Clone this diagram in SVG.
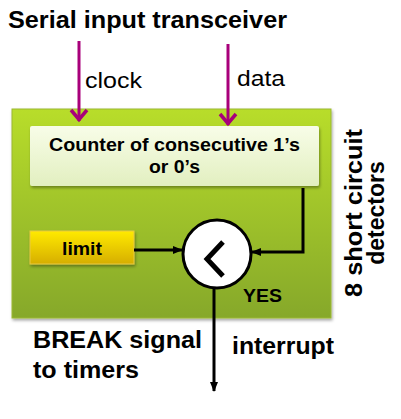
<svg xmlns="http://www.w3.org/2000/svg" width="401" height="419" viewBox="0 0 401 419">
<defs>
<linearGradient id="gGreen" x1="0" y1="0" x2="0" y2="1">
<stop offset="0" stop-color="#B8DD2C"/>
<stop offset="1" stop-color="#86A82A"/>
</linearGradient>
<linearGradient id="gCounter" x1="0" y1="0" x2="0" y2="1">
<stop offset="0" stop-color="#F8FDE8"/>
<stop offset="1" stop-color="#E2EFC0"/>
</linearGradient>
<linearGradient id="gLimit" x1="0" y1="0" x2="0" y2="1">
<stop offset="0" stop-color="#FFEA00"/>
<stop offset="1" stop-color="#D6AE00"/>
</linearGradient>
<filter id="sh" x="-10%" y="-10%" width="120%" height="130%">
<feDropShadow dx="1" dy="2" stdDeviation="1.5" flood-color="#000" flood-opacity="0.35"/>
</filter>
<marker id="ahM" viewBox="-14 -10 16 20" refX="0" refY="0" markerWidth="16" markerHeight="20" orient="auto" markerUnits="userSpaceOnUse">
<path d="M-11,-8 L-1.5,0 L-11,8" fill="none" stroke="#A8007A" stroke-width="3.5" stroke-linejoin="miter"/>
</marker>
<marker id="ahK" viewBox="0 0 10 10" refX="9" refY="5" markerWidth="10" markerHeight="10" orient="auto" markerUnits="userSpaceOnUse">
<path d="M0,1 L10,5 L0,9 Z" fill="#000"/>
</marker>
<style>
.t{font-family:"Liberation Sans",Arial,sans-serif;fill:#000}
.b{font-weight:bold}
.mg{stroke:#A8007A;stroke-width:3;fill:none}
.bk{stroke:#000;stroke-width:3;fill:none}
</style>
</defs>

<text class="t b" x="8" y="28" font-size="23" textLength="279" lengthAdjust="spacingAndGlyphs">Serial input transceiver</text>

<g id="main-box">
<rect x="12" y="109" width="319" height="209" fill="url(#gGreen)" stroke="#9BB830" stroke-width="1" filter="url(#sh)"/>
</g>

<g id="counter">
<rect x="30" y="126" width="289" height="60" rx="2" fill="url(#gCounter)" filter="url(#sh)"/>
<text class="t b" x="49" y="151" font-size="18" textLength="251" lengthAdjust="spacingAndGlyphs">Counter of consecutive 1’s</text>
<text class="t b" x="149" y="173" font-size="18" textLength="51" lengthAdjust="spacingAndGlyphs">or 0’s</text>
</g>

<g id="limit">
<rect x="30" y="231" width="104" height="33" fill="url(#gLimit)" stroke="#E8C840" stroke-width="1" filter="url(#sh)"/>
<text class="t b" x="62" y="255" font-size="18" textLength="40" lengthAdjust="spacingAndGlyphs">limit</text>
</g>

<g id="comparator">
<circle cx="217" cy="254" r="34" fill="#fff" stroke="#000" stroke-width="3"/>
<path d="M223,242 L207,259 L223,276" fill="none" stroke="#000" stroke-width="5" stroke-linejoin="miter"/>
</g>

<g id="connectors">
<line class="mg" x1="79" y1="41" x2="79" y2="121" marker-end="url(#ahM)"/>
<line class="mg" x1="228" y1="44" x2="228" y2="125" marker-end="url(#ahM)"/>
<line class="bk" x1="134" y1="250" x2="182" y2="250" marker-end="url(#ahK)"/>
<polyline class="bk" points="303,188 303,252 252,252" marker-end="url(#ahK)"/>
<line class="bk" x1="214" y1="288" x2="214" y2="391" marker-end="url(#ahK)"/>
</g>

<text class="t" x="85" y="88" font-size="22" textLength="57" lengthAdjust="spacingAndGlyphs">clock</text>
<text class="t" x="237" y="86" font-size="22" textLength="48" lengthAdjust="spacingAndGlyphs">data</text>
<text class="t b" x="243" y="302" font-size="18" textLength="39" lengthAdjust="spacingAndGlyphs">YES</text>
<text class="t b" x="33" y="348" font-size="23" textLength="169" lengthAdjust="spacingAndGlyphs">BREAK signal</text>
<text class="t b" x="33" y="378" font-size="23" textLength="106" lengthAdjust="spacingAndGlyphs">to timers</text>
<text class="t b" x="232" y="354" font-size="23" textLength="102" lengthAdjust="spacingAndGlyphs">interrupt</text>

<g transform="translate(362,213) rotate(-90)">
<text class="t b" x="-84" y="0" font-size="23" textLength="168" lengthAdjust="spacingAndGlyphs">8 short circuit</text>
<text class="t b" x="0" y="22" font-size="23" text-anchor="middle">detectors</text>
</g>
</svg>
